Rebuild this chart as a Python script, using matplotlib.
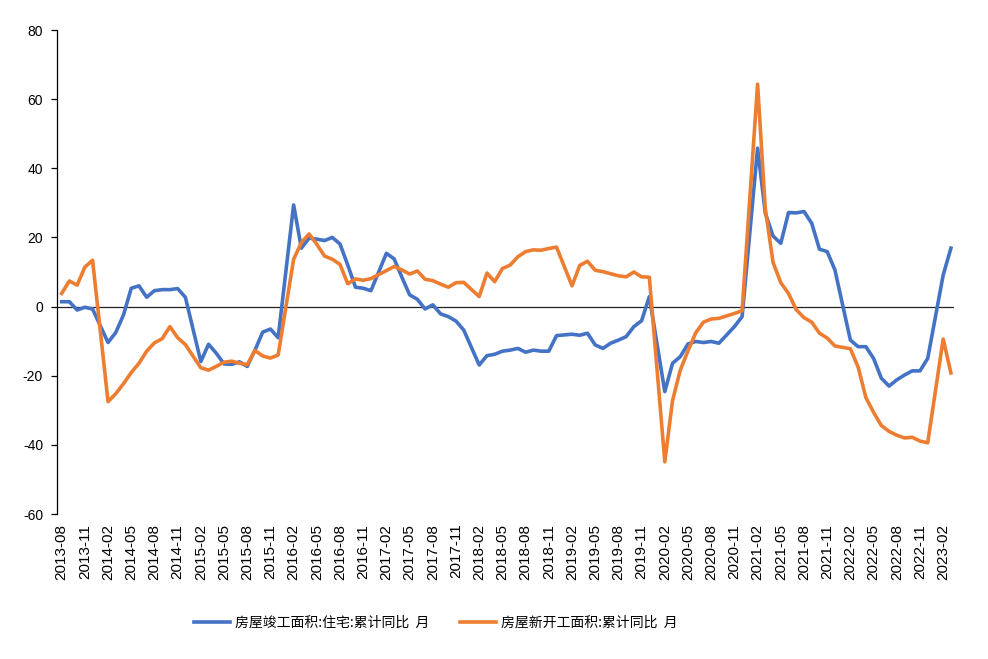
import matplotlib
matplotlib.use("Agg")
import matplotlib.pyplot as plt
import pandas as pd

# ---- data -------------------------------------------------------------
# monthly periods 2013-08 .. 2023-03, January is not published (Jan+Feb combined)
periods_all = pd.period_range("2013-08", "2023-03", freq="M")
periods = [p for p in periods_all if p.month != 1]

completed_housing = [  # 房屋竣工面积:住宅:累计同比
    1.4, 1.4, -1.0, -0.2, -0.7,
    -10.4, -7.5, -2.4, 5.3, 6.0, 2.7, 4.6, 4.9, 4.9, 5.2, 2.7,
    -15.9, -10.9, -13.5, -16.6, -16.7, -16.0, -17.3, -12.6, -7.4, -6.5, -9.0,
    29.4, 16.9, 19.8, 19.5, 19.1, 20.0, 18.1, 12.0, 5.6, 5.3, 4.6,
    15.4, 13.8, 8.5, 3.4, 2.1, -0.7, 0.5, -2.1, -2.9, -4.2, -6.8,
    -16.9, -14.2, -13.8, -12.9, -12.6, -12.1, -13.2, -12.6, -12.9, -12.9, -8.4,
    -8.0, -8.3, -7.7, -11.1, -12.1, -10.6, -9.7, -8.7, -5.8, -4.1, 2.9,
    -24.6, -16.4, -14.5, -10.8, -10.1, -10.4, -10.1, -10.6, -8.2, -5.8, -2.9,
    45.8, 27.0, 20.4, 18.3, 27.2, 27.1, 27.5, 24.1, 16.6, 15.9, 10.6,
    -9.7, -11.6, -11.6, -15.0, -20.7, -23.0, -21.2, -19.8, -18.6, -18.6, -15.0,
    9.1, 16.9,
]

new_starts = [  # 房屋新开工面积:累计同比
    3.8, 7.4, 6.2, 11.4, 13.4,
    -27.5, -25.2, -22.3, -19.1, -16.4, -12.9, -10.5, -9.3, -5.8, -9.0, -11.0,
    -17.7, -18.4, -17.3, -16.1, -15.8, -16.4, -16.8, -12.7, -14.3, -14.9, -14.0,
    13.7, 18.5, 21.0, 18.0, 14.6, 13.7, 12.2, 6.6, 8.0, 7.6, 8.1,
    10.4, 11.6, 10.6, 9.4, 10.3, 7.9, 7.5, 6.5, 5.6, 6.9, 7.0,
    2.9, 9.7, 7.2, 11.0, 12.0, 14.4, 15.9, 16.4, 16.3, 16.8, 17.2,
    6.0, 11.9, 13.1, 10.5, 10.1, 9.5, 8.9, 8.6, 10.0, 8.6, 8.5,
    -44.9, -27.2, -18.4, -12.8, -7.6, -4.5, -3.6, -3.4, -2.7, -2.0, -1.2,
    64.3, 28.2, 12.8, 6.9, 3.8, -0.9, -3.2, -4.5, -7.7, -9.1, -11.4,
    -12.2, -17.5, -26.3, -30.6, -34.4, -36.1, -37.2, -38.0, -37.8, -38.9, -39.4,
    -9.4, -19.2,
]

tick_periods = [p for p in periods_all if (p - periods_all[0]).n % 3 == 0]
tick_labels = [p.strftime("%Y-%m") for p in tick_periods]
y_ticks = [-60, -40, -20, 0, 20, 40, 60, 80]

series_names = ["房屋竣工面积:住宅:累计同比  月", "房屋新开工面积:累计同比  月"]
colors = ["#4472C4", "#ED7D31"]

# ---- figure -------------------------------------------------------------
base = periods_all[0]
x = [(p - base).n for p in periods]
xt = [(p - base).n for p in tick_periods]

fig = plt.figure(figsize=(9.88, 6.59), dpi=100)
ax = fig.add_axes([57 / 988, 1 - 514 / 659, 897 / 988, 484 / 659])

l1, = ax.plot(x, completed_housing, color=colors[0], lw=2.6, solid_joinstyle="round")
l2, = ax.plot(x, new_starts, color=colors[1], lw=2.6, solid_joinstyle="round")
ax.axhline(0, color="#222222", lw=0.9, zorder=1)

ax.set_xlim(-0.6, 115.4)
ax.set_ylim(-60, 80)
ax.set_yticks(y_ticks)
ax.set_yticklabels([str(v) for v in y_ticks], fontsize=10, family="Liberation Sans")
ax.set_xticks(xt)
ax.set_xticklabels(tick_labels, rotation=90, fontsize=11, family="Liberation Sans")

for s in ["top", "right", "bottom"]:
    ax.spines[s].set_visible(False)
ax.spines["left"].set_color("black")
ax.spines["left"].set_linewidth(0.9)
ax.tick_params(axis="y", direction="out", length=4, width=0.9, pad=6, colors="black")
ax.tick_params(axis="x", length=0, pad=7, colors="black")

fig.legend([l1, l2], series_names, loc="center left",
           bbox_to_anchor=(187 / 988, 1 - 623 / 659), ncol=2, frameon=False,
           prop={"family": ["Noto Sans CJK SC", "DejaVu Sans"], "size": 10},
           handlelength=2.6, handletextpad=0.35, columnspacing=2.2, borderpad=0)

fig.savefig("out.png", dpi=100)
